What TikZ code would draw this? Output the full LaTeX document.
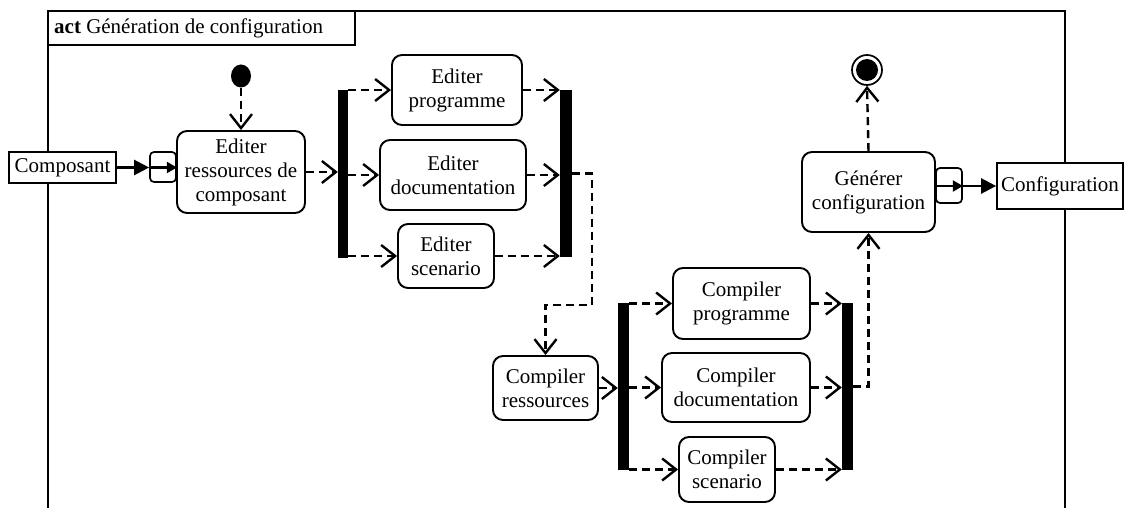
\documentclass[tikz,border=0pt]{standalone}
\usepackage{fontspec}
\setmainfont{Liberation Serif}
\usetikzlibrary{arrows.meta,calc,shapes.geometric}
\tikzset{
  every node/.style={font=\fontsize{21}{24}\selectfont},
  action/.style={draw, line width=1.9pt, rounded corners=10pt, align=center, inner sep=0pt},
  objnode/.style={draw, line width=1.7pt, align=center, inner sep=0pt},
  pinbox/.style={draw, line width=1.7pt, rounded corners=4pt, inner sep=0pt},
  bar/.style={fill=black, draw=none, inner sep=0pt},
  flow/.style={line width=2.4pt, dash pattern=on 8pt off 5pt, -{Straight Barb[length=14pt,width=22pt,line width=2.4pt]}},
  objflow/.style={line width=2.4pt, -{Triangle[length=15pt,width=15pt]}},
  pinflow/.style={line width=2.2pt, -{Triangle[length=10pt,width=11pt]}}
}
\begin{document}
\begin{tikzpicture}[x=1pt,y=-1pt]
\useasboundingbox (0,0) rectangle (1125,508);
% frame
\draw[line width=1.7pt] (48,520) -- (48,11) -- (1065,11) -- (1065,520);
\draw[line width=1.7pt, fill=white] (48,11) rectangle (355,45);
\node[anchor=west, inner sep=0pt] (title) at (54,28) {\textbf{act} Génération de configuration};

% nodes
\node[objnode, minimum width=107pt, minimum height=31pt, fill=white] (comp) at (62.5,167.5) {Composant};
\node[pinbox, minimum width=26pt, minimum height=30pt] (pinIn) at (163,167) {};
\node[action, minimum width=128pt, minimum height=82pt] (er) at (241,172) {Editer\\ressources de\\composant};
\node[ellipse, fill=black, minimum width=20pt, minimum height=23pt, inner sep=0pt] (init) at (241,76) {};

\node[bar, minimum width=10pt, minimum height=168pt] (bar1) at (343,174) {};
\node[action, minimum width=130pt, minimum height=70pt] (ep) at (457,90) {Editer\\programme};
\node[action, minimum width=146pt, minimum height=70pt] (ed) at (453,175) {Editer\\documentation};
\node[action, minimum width=96pt, minimum height=64pt] (es) at (446,256) {Editer\\scenario};
\node[bar, minimum width=12pt, minimum height=167pt] (bar2) at (566,173.5) {};

\node[action, minimum width=105pt, minimum height=64pt] (cr) at (545.5,388) {Compiler\\ressources};
\node[bar, minimum width=11pt, minimum height=167pt] (bar3) at (623.5,386.5) {};
\node[action, minimum width=137pt, minimum height=71pt] (cp) at (741.5,303.5) {Compiler\\programme};
\node[action, minimum width=148pt, minimum height=69pt] (cd) at (736,387.5) {Compiler\\documentation};
\node[action, minimum width=96pt, minimum height=65pt] (cs) at (727,469.5) {Compiler\\scenario};
\node[bar, minimum width=11pt, minimum height=167pt] (bar4) at (847.5,386.5) {};

\node[action, minimum width=133pt, minimum height=80pt] (gc) at (868.5,192) {Générer\\configuration};
\node[circle, draw, line width=1.7pt, minimum size=30pt, inner sep=0pt] (final) at (867,70) {};
\node[circle, fill=black, minimum size=22pt, inner sep=0pt] (finalin) at (867,70) {};
\node[pinbox, minimum width=26pt, minimum height=35pt] (pinOut) at (949,185.5) {};
\node[objnode, minimum width=126pt, minimum height=46pt, fill=white] (conf) at (1060,186) {Configuration};

% object flows
\draw[objflow] (comp.east) -- (pinIn.west |- comp.east);
\draw[pinflow] (pinIn.west |- comp.east) -- (pinIn.east |- comp.east);
\draw[pinflow] (gc.east |- conf.west) -- (pinOut.east |- conf.west);
\draw[objflow] (pinOut.east |- conf.west) -- (conf.west);

% control flows
\draw[flow] (init) -- (er.north);
\draw[flow] (er.east) -- (er.east -| bar1.west);
\draw[flow] (bar1.east |- ep.west) -- (ep.west);
\draw[flow] (bar1.east |- ed.west) -- (ed.west);
\draw[flow] (bar1.east |- es.west) -- (es.west);
\draw[flow] (ep.east) -- (ep.east -| bar2.west);
\draw[flow] (ed.east) -- (ed.east -| bar2.west);
\draw[flow] (es.east) -- (es.east -| bar2.west);
\coordinate (k1) at (592,305);
\draw[flow] (bar2.east) -| (k1) -| (cr.north);
\draw[flow] (cr.east) -- (cr.east -| bar3.west);
\draw[flow] (bar3.east |- cp.west) -- (cp.west);
\draw[flow] (bar3.east |- cd.west) -- (cd.west);
\draw[flow] (bar3.east |- cs.west) -- (cs.west);
\draw[flow] (cp.east) -- (cp.east -| bar4.west);
\draw[flow] (cd.east) -- (cd.east -| bar4.west);
\draw[flow] (cs.east) -- (cs.east -| bar4.west);
\draw[flow] (bar4.east) -| (gc.south);
\draw[flow] (gc.north) -- (final.south);
\end{tikzpicture}
\end{document}
